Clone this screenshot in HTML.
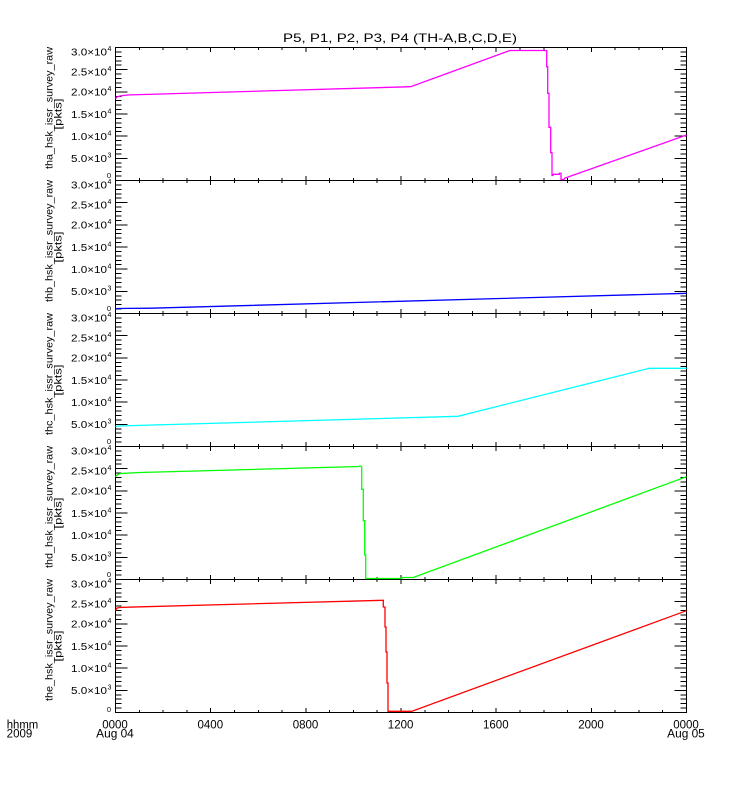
<!DOCTYPE html>
<html>
<head>
<meta charset="utf-8">
<style>
  html, body { margin: 0; padding: 0; background: #fff; }
  svg { display: block; }
  text { font-family: "Liberation Sans", sans-serif; fill: #000; }
</style>
</head>
<body>
<svg width="750" height="800" viewBox="0 0 750 800" xmlns="http://www.w3.org/2000/svg">
  <rect x="0" y="0" width="750" height="800" fill="#fff"/>

  <defs>
    <g id="frame" fill="none" stroke="#000" stroke-width="1" shape-rendering="crispEdges">
      <rect x="115.5" y="0" width="571" height="133"/>
      <path d="M115.5 0h12 M115.5 4.4h6 M115.5 8.9h6 M115.5 13.3h6 M115.5 17.7h6 M115.5 22.2h12 M115.5 26.6h6 M115.5 31h6 M115.5 35.5h6 M115.5 39.9h6 M115.5 44.3h12 M115.5 48.8h6 M115.5 53.2h6 M115.5 57.6h6 M115.5 62.1h6 M115.5 66.5h12 M115.5 70.9h6 M115.5 75.4h6 M115.5 79.8h6 M115.5 84.2h6 M115.5 88.7h12 M115.5 93.1h6 M115.5 97.5h6 M115.5 102h6 M115.5 106.4h6 M115.5 110.8h12 M115.5 115.3h6 M115.5 119.7h6 M115.5 124.1h6 M115.5 128.6h6 M115.5 133h12"/>
      <path d="M686.5 0h-12 M686.5 4.4h-6 M686.5 8.9h-6 M686.5 13.3h-6 M686.5 17.7h-6 M686.5 22.2h-12 M686.5 26.6h-6 M686.5 31h-6 M686.5 35.5h-6 M686.5 39.9h-6 M686.5 44.3h-12 M686.5 48.8h-6 M686.5 53.2h-6 M686.5 57.6h-6 M686.5 62.1h-6 M686.5 66.5h-12 M686.5 70.9h-6 M686.5 75.4h-6 M686.5 79.8h-6 M686.5 84.2h-6 M686.5 88.7h-12 M686.5 93.1h-6 M686.5 97.5h-6 M686.5 102h-6 M686.5 106.4h-6 M686.5 110.8h-12 M686.5 115.3h-6 M686.5 119.7h-6 M686.5 124.1h-6 M686.5 128.6h-6 M686.5 133h-12"/>
      <path d="M115.5 0v4.5 M139.3 0v2.5 M163.1 0v2.5 M186.9 0v2.5 M210.7 0v4.5 M234.5 0v2.5 M258.3 0v2.5 M282 0v2.5 M305.8 0v4.5 M329.6 0v2.5 M353.4 0v2.5 M377.2 0v2.5 M401 0v4.5 M424.8 0v2.5 M448.6 0v2.5 M472.4 0v2.5 M496.2 0v4.5 M520 0v2.5 M543.8 0v2.5 M567.5 0v2.5 M591.3 0v4.5 M615.1 0v2.5 M638.9 0v2.5 M662.7 0v2.5 M686.5 0v4.5"/>
      <path d="M115.5 133v-4.5 M139.3 133v-2.5 M163.1 133v-2.5 M186.9 133v-2.5 M210.7 133v-4.5 M234.5 133v-2.5 M258.3 133v-2.5 M282 133v-2.5 M305.8 133v-4.5 M329.6 133v-2.5 M353.4 133v-2.5 M377.2 133v-2.5 M401 133v-4.5 M424.8 133v-2.5 M448.6 133v-2.5 M472.4 133v-2.5 M496.2 133v-4.5 M520 133v-2.5 M543.8 133v-2.5 M567.5 133v-2.5 M591.3 133v-4.5 M615.1 133v-2.5 M638.9 133v-2.5 M662.7 133v-2.5 M686.5 133v-4.5"/>
    </g>
  </defs>

  <!-- Title -->
  <text x="400" y="42" font-size="12" text-anchor="middle" textLength="234" lengthAdjust="spacingAndGlyphs">P5, P1, P2, P3, P4 (TH-A,B,C,D,E)</text>

  <!-- Frames -->
  <use href="#frame" transform="translate(0,47.5)"/>
  <use href="#frame" transform="translate(0,180.5)"/>
  <use href="#frame" transform="translate(0,313.5)"/>
  <use href="#frame" transform="translate(0,446.5)"/>
  <use href="#frame" transform="translate(0,579.5)"/>

  <!-- Data series -->
  <g fill="none" stroke-width="1.3" stroke-linejoin="miter">
    <polyline stroke="#ff00ff" points="115.5,98.5 117,97 120,96 127,95 410.7,86.7 510,50.5 546.7,50.5 546.7,66.7 547.7,66.7 547.7,93.3 549,93.3 549,127.3 550.7,127.3 550.7,152.7 552,152.7 552,175.5 553,175.5 553,174.3 559.3,174.3 559.3,173.3 561,173.3 561,179.5 564,179.5 564.5,178.3 686.5,135"/>
    <polyline stroke="#0000ff" points="115.5,309.5 117,308.5 151,308.2 686.5,293.3"/>
    <polyline stroke="#00ffff" points="115.5,426.8 118,426 458,416.3 649.3,368.3 686.5,368.3"/>
    <polyline stroke="#00ff00" points="115.5,476.7 117,475 120,473.5 140,472.5 359,466.5 360,465.8 361.7,466.5 361.7,489.3 363.3,489.3 363.3,520.7 364.7,520.7 364.7,555 365.7,555 365.7,578.5 401.7,578.5 401.7,577.5 413.3,577.5 686.5,476.7"/>
    <polyline stroke="#ff0000" points="115.5,610.7 117,608 120,607.5 123.3,607.3 383.3,600.3 383.3,607 385,607 385,627 386,627 386,652 387,652 387,683 388,683 388,711.3 411.7,711.3 686.5,610.7"/>
  </g>

  <!-- Y tick labels panel 1 -->
  <g transform="translate(0,47.5)" font-size="10">
    <text x="107" y="8" text-anchor="end" textLength="36" lengthAdjust="spacingAndGlyphs">3.0×10</text><text x="107.5" y="3.5" font-size="7">4</text>
    <text x="107" y="28.2" text-anchor="end" textLength="36" lengthAdjust="spacingAndGlyphs">2.5×10</text><text x="107.5" y="23.7" font-size="7">4</text>
    <text x="107" y="48.1" text-anchor="end" textLength="36" lengthAdjust="spacingAndGlyphs">2.0×10</text><text x="107.5" y="43.6" font-size="7">4</text>
    <text x="107" y="70.3" text-anchor="end" textLength="36" lengthAdjust="spacingAndGlyphs">1.5×10</text><text x="107.5" y="65.8" font-size="7">4</text>
    <text x="107" y="92.5" text-anchor="end" textLength="36" lengthAdjust="spacingAndGlyphs">1.0×10</text><text x="107.5" y="88" font-size="7">4</text>
    <text x="107" y="114.6" text-anchor="end" textLength="36" lengthAdjust="spacingAndGlyphs">5.0×10</text><text x="107.5" y="110.1" font-size="7">3</text>
    <text x="111" y="130.5" text-anchor="end" font-size="7.5">0</text>
  </g>
  <!-- panel 2 -->
  <g transform="translate(0,180.5)" font-size="10">
    <text x="107" y="8" text-anchor="end" textLength="36" lengthAdjust="spacingAndGlyphs">3.0×10</text><text x="107.5" y="3.5" font-size="7">4</text>
    <text x="107" y="28.2" text-anchor="end" textLength="36" lengthAdjust="spacingAndGlyphs">2.5×10</text><text x="107.5" y="23.7" font-size="7">4</text>
    <text x="107" y="48.1" text-anchor="end" textLength="36" lengthAdjust="spacingAndGlyphs">2.0×10</text><text x="107.5" y="43.6" font-size="7">4</text>
    <text x="107" y="70.3" text-anchor="end" textLength="36" lengthAdjust="spacingAndGlyphs">1.5×10</text><text x="107.5" y="65.8" font-size="7">4</text>
    <text x="107" y="92.5" text-anchor="end" textLength="36" lengthAdjust="spacingAndGlyphs">1.0×10</text><text x="107.5" y="88" font-size="7">4</text>
    <text x="107" y="114.6" text-anchor="end" textLength="36" lengthAdjust="spacingAndGlyphs">5.0×10</text><text x="107.5" y="110.1" font-size="7">3</text>
    <text x="111" y="130.5" text-anchor="end" font-size="7.5">0</text>
  </g>
  <!-- panel 3 -->
  <g transform="translate(0,313.5)" font-size="10">
    <text x="107" y="8" text-anchor="end" textLength="36" lengthAdjust="spacingAndGlyphs">3.0×10</text><text x="107.5" y="3.5" font-size="7">4</text>
    <text x="107" y="28.2" text-anchor="end" textLength="36" lengthAdjust="spacingAndGlyphs">2.5×10</text><text x="107.5" y="23.7" font-size="7">4</text>
    <text x="107" y="48.1" text-anchor="end" textLength="36" lengthAdjust="spacingAndGlyphs">2.0×10</text><text x="107.5" y="43.6" font-size="7">4</text>
    <text x="107" y="70.3" text-anchor="end" textLength="36" lengthAdjust="spacingAndGlyphs">1.5×10</text><text x="107.5" y="65.8" font-size="7">4</text>
    <text x="107" y="92.5" text-anchor="end" textLength="36" lengthAdjust="spacingAndGlyphs">1.0×10</text><text x="107.5" y="88" font-size="7">4</text>
    <text x="107" y="114.6" text-anchor="end" textLength="36" lengthAdjust="spacingAndGlyphs">5.0×10</text><text x="107.5" y="110.1" font-size="7">3</text>
    <text x="111" y="130.5" text-anchor="end" font-size="7.5">0</text>
  </g>
  <!-- panel 4 -->
  <g transform="translate(0,446.5)" font-size="10">
    <text x="107" y="8" text-anchor="end" textLength="36" lengthAdjust="spacingAndGlyphs">3.0×10</text><text x="107.5" y="3.5" font-size="7">4</text>
    <text x="107" y="28.2" text-anchor="end" textLength="36" lengthAdjust="spacingAndGlyphs">2.5×10</text><text x="107.5" y="23.7" font-size="7">4</text>
    <text x="107" y="48.1" text-anchor="end" textLength="36" lengthAdjust="spacingAndGlyphs">2.0×10</text><text x="107.5" y="43.6" font-size="7">4</text>
    <text x="107" y="70.3" text-anchor="end" textLength="36" lengthAdjust="spacingAndGlyphs">1.5×10</text><text x="107.5" y="65.8" font-size="7">4</text>
    <text x="107" y="92.5" text-anchor="end" textLength="36" lengthAdjust="spacingAndGlyphs">1.0×10</text><text x="107.5" y="88" font-size="7">4</text>
    <text x="107" y="114.6" text-anchor="end" textLength="36" lengthAdjust="spacingAndGlyphs">5.0×10</text><text x="107.5" y="110.1" font-size="7">3</text>
    <text x="111" y="130.5" text-anchor="end" font-size="7.5">0</text>
  </g>
  <!-- panel 5 -->
  <g transform="translate(0,579.5)" font-size="10">
    <text x="107" y="8" text-anchor="end" textLength="36" lengthAdjust="spacingAndGlyphs">3.0×10</text><text x="107.5" y="3.5" font-size="7">4</text>
    <text x="107" y="28.2" text-anchor="end" textLength="36" lengthAdjust="spacingAndGlyphs">2.5×10</text><text x="107.5" y="23.7" font-size="7">4</text>
    <text x="107" y="48.1" text-anchor="end" textLength="36" lengthAdjust="spacingAndGlyphs">2.0×10</text><text x="107.5" y="43.6" font-size="7">4</text>
    <text x="107" y="70.3" text-anchor="end" textLength="36" lengthAdjust="spacingAndGlyphs">1.5×10</text><text x="107.5" y="65.8" font-size="7">4</text>
    <text x="107" y="92.5" text-anchor="end" textLength="36" lengthAdjust="spacingAndGlyphs">1.0×10</text><text x="107.5" y="88" font-size="7">4</text>
    <text x="107" y="114.6" text-anchor="end" textLength="36" lengthAdjust="spacingAndGlyphs">5.0×10</text><text x="107.5" y="110.1" font-size="7">3</text>
    <text x="111" y="132.5" text-anchor="end" font-size="7.5">0</text>
  </g>

  <!-- Y axis titles -->
  <g font-size="10.5">
    <text transform="translate(52.5,108) rotate(-90)" text-anchor="middle" textLength="122" lengthAdjust="spacingAndGlyphs">tha_hsk_issr_survey_raw</text>
    <text transform="translate(61.5,114) rotate(-90)" text-anchor="middle" textLength="31" lengthAdjust="spacingAndGlyphs">[pkts]</text>

    <text transform="translate(52.5,241) rotate(-90)" text-anchor="middle" textLength="122" lengthAdjust="spacingAndGlyphs">thb_hsk_issr_survey_raw</text>
    <text transform="translate(61.5,247) rotate(-90)" text-anchor="middle" textLength="31" lengthAdjust="spacingAndGlyphs">[pkts]</text>

    <text transform="translate(52.5,374) rotate(-90)" text-anchor="middle" textLength="122" lengthAdjust="spacingAndGlyphs">thc_hsk_issr_survey_raw</text>
    <text transform="translate(61.5,380) rotate(-90)" text-anchor="middle" textLength="31" lengthAdjust="spacingAndGlyphs">[pkts]</text>

    <text transform="translate(52.5,507) rotate(-90)" text-anchor="middle" textLength="122" lengthAdjust="spacingAndGlyphs">thd_hsk_issr_survey_raw</text>
    <text transform="translate(61.5,513) rotate(-90)" text-anchor="middle" textLength="31" lengthAdjust="spacingAndGlyphs">[pkts]</text>

    <text transform="translate(52.5,640) rotate(-90)" text-anchor="middle" textLength="122" lengthAdjust="spacingAndGlyphs">the_hsk_issr_survey_raw</text>
    <text transform="translate(61.5,646) rotate(-90)" text-anchor="middle" textLength="31" lengthAdjust="spacingAndGlyphs">[pkts]</text>
  </g>

  <!-- X axis labels -->
  <g font-size="11.5">
    <text x="6.7" y="728.5" textLength="31.6" lengthAdjust="spacingAndGlyphs">hhmm</text>
    <text x="6.7" y="737.5" textLength="25.6" lengthAdjust="spacingAndGlyphs">2009</text>

    <text x="115" y="728.5" text-anchor="middle" textLength="25.6" lengthAdjust="spacingAndGlyphs">0000</text>
    <text x="115" y="737.5" text-anchor="middle" textLength="37.6" lengthAdjust="spacingAndGlyphs">Aug 04</text>
    <text x="210.3" y="728.5" text-anchor="middle" textLength="25.6" lengthAdjust="spacingAndGlyphs">0400</text>
    <text x="305.5" y="728.5" text-anchor="middle" textLength="25.6" lengthAdjust="spacingAndGlyphs">0800</text>
    <text x="400.6" y="728.5" text-anchor="middle" textLength="25.6" lengthAdjust="spacingAndGlyphs">1200</text>
    <text x="495.8" y="728.5" text-anchor="middle" textLength="25.6" lengthAdjust="spacingAndGlyphs">1600</text>
    <text x="591" y="728.5" text-anchor="middle" textLength="25.6" lengthAdjust="spacingAndGlyphs">2000</text>
    <text x="686" y="728.5" text-anchor="middle" textLength="25.6" lengthAdjust="spacingAndGlyphs">0000</text>
    <text x="686" y="737.5" text-anchor="middle" textLength="37.6" lengthAdjust="spacingAndGlyphs">Aug 05</text>
  </g>
</svg>
</body>
</html>
